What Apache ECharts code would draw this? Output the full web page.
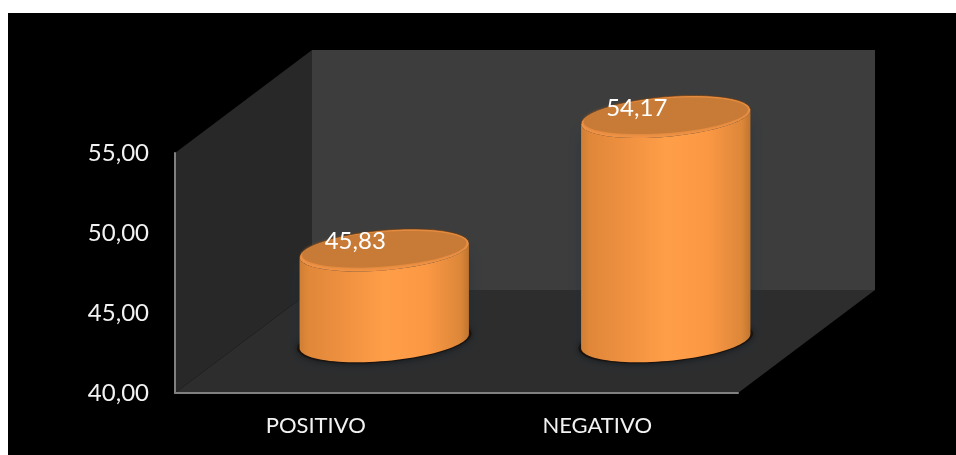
<!DOCTYPE html>
<html><head><meta charset="utf-8">
<style>html,body{margin:0;padding:0;background:#fff}#c{width:956px;height:455px}</style>
<script src="https://cdn.jsdelivr.net/npm/echarts@6/dist/echarts.min.js"></script>
</head><body><div id="c"></div>
<script>
var categories = ['POSITIVO', 'NEGATIVO'];
var values = [45.83, 54.17];
var axisMin = 40, axisMax = 55, axisStep = 5;

var FONT = 'Lato, "Open Sans", sans-serif';
var DX = 137, DY = 103;      // depth of the 3D box
var RX = 85, RY = 20, TILT = 0.088; // cylinder ellipse

function ellipsePt(cx, cy, a) {
  var x = RX * Math.cos(a), y = RY * Math.sin(a);
  return [cx + x * Math.cos(TILT) + y * Math.sin(TILT), cy - x * Math.sin(TILT) + y * Math.cos(TILT)];
}
function arc(cx, cy, from, to) {
  var pts = [], n = 48;
  for (var i = 0; i <= n; i++) pts.push(ellipsePt(cx, cy, from + (to - from) * i / n));
  return pts;
}
function scaled(pts, cx, cy, sx, sy) {
  return pts.map(function (p) { return [cx + (p[0] - cx) * sx, cy + (p[1] - cy) * sy]; });
}
function hGrad(stops) {
  return new echarts.graphic.LinearGradient(0, 0, 1, 0, stops.map(function (s) { return {offset: s[0], color: s[1]}; }));
}
function renderWalls(params, api) {
  var c = params.coordSys, l = c.x, r = c.x + c.width, t = c.y, b = c.y + c.height;
  return {type: 'group', silent: true, children: [
    {type: 'rect', shape: {x: l + DX, y: t - DY, width: c.width, height: c.height}, style: {fill: '#3d3d3d'}},
    {type: 'polygon', shape: {points: [[l, b], [r, b], [r + DX, b - DY], [l + DX, b - DY]]}, style: {fill: '#2d2d2d'}},
    {type: 'polygon', shape: {points: [[l, t], [l + DX, t - DY], [l + DX, b - DY], [l, b]]}, style: {fill: '#282828'}}
  ]};
}
function renderCylinder(params, api) {
  var top = api.coord([api.value(0), api.value(1)]);
  var base = api.coord([api.value(0), axisMin]);
  var cx = top[0] + DX / 2, ty = top[1] - DY / 2 + 2, by = base[1] - DY / 2 - 0.5;
  var lower = arc(cx, by, Math.PI, 0);
  var upper = arc(cx, ty, 0, Math.PI);
  var grad = hGrad([[0, '#cf7f34'], [0.05, '#e08739'], [0.25, '#ee9040'], [0.5, '#ff9e48'], [0.75, '#fb9844'], [0.95, '#dc8739'], [1, '#c0752f']]);
  return {type: 'group', silent: true, children: [
    {type: 'polygon', shape: {points: scaled(arc(cx, by, 0, Math.PI * 2), cx, by, 1.03, 1.06)},
      style: {fill: '#1a0d04', shadowBlur: 6, shadowColor: 'rgba(0,0,0,0.6)'}},
    {type: 'polygon', shape: {points: upper.concat(lower)},
      style: {fill: grad, shadowBlur: 18, shadowColor: 'rgba(28,45,60,0.45)'}},
    {type: 'polygon', shape: {points: arc(cx, ty, 0, Math.PI * 2)}, style: {fill: '#f09244'}},
    {type: 'polyline', shape: {points: arc(cx, ty, Math.PI, Math.PI * 2)},
      style: {stroke: 'rgba(80,45,15,0.7)', lineWidth: 1, fill: 'none'}},
    {type: 'polygon', shape: {points: scaled(arc(cx, ty - 1, 0, Math.PI * 2), cx, ty - 1, 0.97, 0.86)},
      style: {fill: '#c87b36', shadowBlur: 3, shadowColor: '#c87b36'}},
    {type: 'text', style: {text: String(api.value(1)).replace('.', ','), x: cx - 29, y: ty - 9, align: 'center', verticalAlign: 'middle',
      fill: '#fff', font: '24px ' + FONT}}
  ]};
}
var chart = echarts.init(document.getElementById('c'), null, {renderer: 'canvas'});
chart.setOption({
  animation: false,
  backgroundColor: 'transparent',
  graphic: [{type: 'rect', z: -100, silent: true, shape: {x: 8, y: 13, width: 948, height: 442}, style: {fill: '#000'}}],
  grid: {left: 175, right: 218, top: 153, bottom: 62, containLabel: false},
  xAxis: {type: 'category', data: categories, z: 10,
    axisLine: {lineStyle: {color: '#808080', width: 2}}, axisTick: {show: false},
    axisLabel: {color: '#f2f2f2', fontFamily: FONT, fontSize: 22, margin: 22}},
  yAxis: {type: 'value', min: axisMin, max: axisMax, interval: axisStep, z: 10,
    axisLine: {show: true, lineStyle: {color: '#808080', width: 2}}, axisTick: {show: false}, splitLine: {show: false},
    axisLabel: {color: '#f2f2f2', fontFamily: FONT, fontSize: 24, margin: 26,
      formatter: function (v) { return v.toFixed(2).replace('.', ','); }}},
  series: [
    {type: 'custom', z: 1, clip: false, coordinateSystem: 'cartesian2d', renderItem: renderWalls, data: [[0, axisMin]], encode: {x: 0, y: 1}, silent: true},
    {type: 'custom', z: 2, clip: false, coordinateSystem: 'cartesian2d', renderItem: renderCylinder,
      data: values.map(function (v, i) { return [i, v]; }), encode: {x: 0, y: 1}, silent: true}
  ]
});
</script></body></html>
